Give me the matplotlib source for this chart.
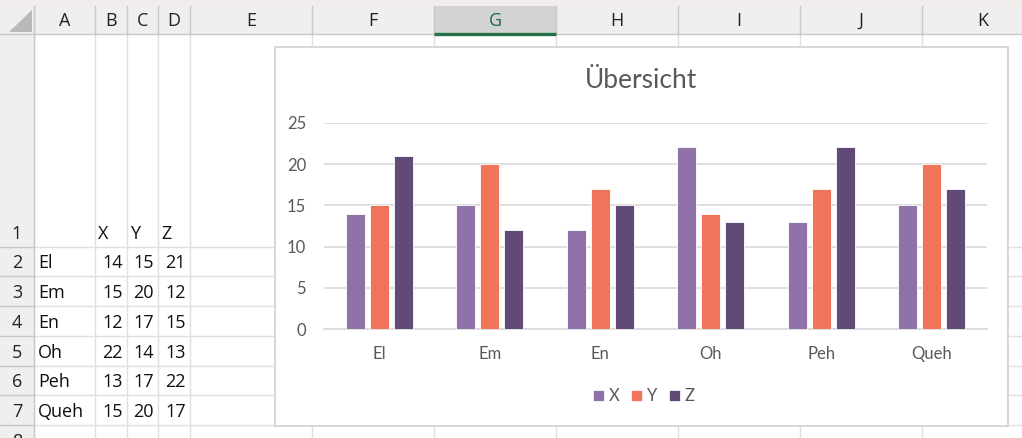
import matplotlib
matplotlib.use('Agg')
import matplotlib.pyplot as plt
from matplotlib.patches import Rectangle, Polygon, Patch
import numpy as np

plt.rcParams['font.family'] = ['Lato', 'DejaVu Sans']

# data shown in the sheet and in the chart
categories = ['El', 'Em', 'En', 'Oh', 'Peh', 'Queh']
series_names = ['X', 'Y', 'Z']
x_vals = [14, 15, 12, 22, 13, 15]
y_vals = [15, 20, 17, 14, 17, 20]
z_vals = [21, 12, 15, 13, 22, 17]
col_letters = ['A', 'B', 'C', 'D', 'E', 'F', 'G', 'H', 'I', 'J', 'K']
y_ticks = [0, 5, 10, 15, 20, 25]
chart_title = 'Übersicht'

colors = ['#8e72a8', '#f0745a', '#624a78']

W, H = 1022, 438
fig = plt.figure(figsize=(W / 100, H / 100), dpi=100)

# --- spreadsheet background, pixel coordinates ---
sh = fig.add_axes([0, 0, 1, 1])
sh.set_xlim(0, W)
sh.set_ylim(H, 0)
sh.axis('off')

col_edges = [34, 95, 127, 158, 190, 312, 434, 556, 678, 800, 922, 1044]
row_edges = [34, 246.7] + [246.7 + 29.7 * i for i in range(1, 8)]
hdr_bg = '#efefef'
grid_c = '#e0e0e0'
hdr_line = '#c8c8c8'
sheet_font = ['Open Sans', 'DejaVu Sans']

sh.add_patch(Rectangle((0, 0), W, 6, color='#f3ecec', lw=0))
sh.add_patch(Rectangle((0, 6), W, 28, color=hdr_bg, lw=0))
sh.add_patch(Rectangle((0, 34), 34, H - 34, color=hdr_bg, lw=0))
# selected column G
sh.add_patch(Rectangle((434, 6), 122, 28, color='#d3d3d3', lw=0))
sh.add_patch(Polygon([(9, 32), (32, 32), (32, 10)], closed=True, color='#b9b9b9', lw=0))

# grid lines
for x in col_edges:
    sh.plot([x, x], [34, H], color=grid_c, lw=1)
    sh.plot([x, x], [6, 34], color=hdr_line, lw=1)
for y in row_edges[1:]:
    sh.plot([34, W], [y, y], color=grid_c, lw=1)
    sh.plot([0, 34], [y, y], color=hdr_line, lw=1)
sh.plot([0, W], [34, 34], color=hdr_line, lw=1)
sh.plot([34, 34], [6, H], color=hdr_line, lw=1)
sh.plot([434, 556], [33.5, 33.5], color='#217346', lw=2.4, solid_capstyle='butt', zorder=4)

for i, lab in enumerate(col_letters):
    cx = (col_edges[i] + col_edges[i + 1]) / 2
    sh.text(cx, 21, lab, ha='center', va='center', fontsize=13,
            color='#1e6b3c' if lab == 'G' else '#222222', family=sheet_font)

for r in range(8):
    bottom = row_edges[r + 1]
    sh.text(17, bottom - 8, str(r + 1), ha='center', va='baseline', fontsize=13,
            color='#222222', family=sheet_font, clip_on=True)

cell_font = dict(fontsize=13, color='#111111', family=sheet_font, va='baseline')
for j, name in enumerate(series_names):
    sh.text(col_edges[j + 1] + 3, row_edges[1] - 8, name, ha='left', **cell_font)
for i, cat in enumerate(categories):
    base = row_edges[i + 2] - 8
    sh.text(38, base, cat, ha='left', **cell_font)
    for j, vals in enumerate([x_vals, y_vals, z_vals]):
        sh.text(col_edges[j + 2] - 4, base, str(vals[i]), ha='right', **cell_font)

# chart frame
sh.add_patch(Rectangle((275, 46.5), 733, 379, facecolor='white', edgecolor='#d4d4d4', lw=1.3, zorder=5))

# --- chart ---
px0, px1, py0, py1 = 324, 987, 122.7, 329.3
ax = fig.add_axes([px0 / W, 1 - py1 / H, (px1 - px0) / W, (py1 - py0) / H])
ax.set_facecolor('none')
xs = np.arange(len(categories))
bw, step = 0.172, 0.217
for k, (vals, name) in enumerate(zip([x_vals, y_vals, z_vals], series_names)):
    ax.bar(xs + (k - 1) * step, vals, width=bw, color=colors[k], edgecolor='#ffffff',
           linewidth=0.6, label=name, zorder=3)
ax.set_xlim(-0.5, len(categories) - 0.5)
ax.set_ylim(0, 25)
ax.set_yticks(y_ticks)
ax.set_xticks(xs)
ax.set_xticklabels(categories)
ax.grid(axis='y', color='#d9d9d9', lw=1.2, zorder=0)
for s in ['top', 'right', 'left']:
    ax.spines[s].set_visible(False)
ax.spines['bottom'].set_color('#d9d9d9')
ax.spines['bottom'].set_linewidth(1.2)
ax.tick_params(axis='both', length=0, labelsize=12, labelcolor='#595959')
ax.tick_params(axis='y', pad=13)
ax.tick_params(axis='x', pad=12)

fig.text(641 / W, 1 - 80 / H, chart_title, ha='center', va='center', fontsize=19, color='#595959')

handles = [Patch(facecolor=c, edgecolor='white', lw=0.5) for c in colors]
fig.legend(handles, series_names, loc='center', bbox_to_anchor=(644 / W, 1 - 396 / H),
           ncol=3, frameon=False, fontsize=12, handlelength=0.65, handleheight=0.65,
           handletextpad=0.3, columnspacing=0.7, labelcolor='#595959')

fig.savefig('out.png', dpi=100)
